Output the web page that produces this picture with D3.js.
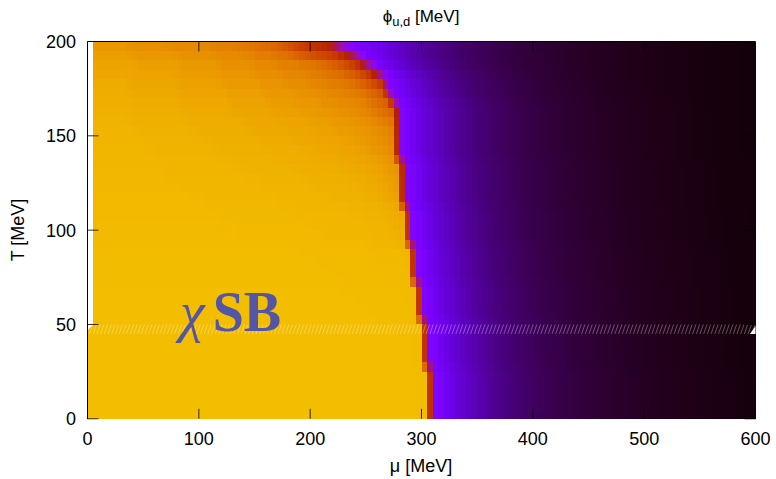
<!DOCTYPE html>
<html><head><meta charset="utf-8">
<script src="https://cdn.jsdelivr.net/npm/d3@7"></script>
<style>body{margin:0;background:#fff}svg{display:block}</style>
</head><body>
<svg id="c" width="776" height="479"></svg>
<script>
// ---------------- data ----------------
// grid nodes every 5 MeV in mu (0..600) and T (0..200)
const muStep = 5, tStep = 5;
const muNodes = d3.range(0, 600 + muStep, muStep);
const tNodes = d3.range(0, 200 + tStep, tStep);

// chirally broken phase: phi_u,d (MeV) per T row, run-length coded [phi, count], from mu = 0 to the boundary
const brokenRuns = [
  [[90.5,60],[90.3,2]], [[90.5,60],[90.3,2]], [[90.5,60],[90.3,2]],
  [[90.5,60],[90.3,2]], [[90.5,60],[90.3,2]], [[90.5,60],[90.3,2]],
  [[90.5,59],[90.2,2]], [[90.5,59],[90.2,2]], [[90.5,59],[90.2,2]], [[90.5,59],[90.2,2]],
  [[90.5,55],[90.3,5],[90.1,1]],
  [[90.5,52],[90.3,7],[90.1,1]],
  [[90.5,50],[90.3,9],[90.0,1]],
  [[90.5,48],[90.3,10],[90.1,1],[89.9,1]],
  [[90.4,46],[90.3,11],[90.1,2],[89.8,1]],
  [[90.4,45],[90.2,11],[90.0,2],[89.7,1]],
  [[90.4,43],[90.2,11],[90.0,4],[89.6,1]],
  [[90.3,41],[90.1,11],[89.9,5],[89.7,1],[89.4,1]],
  [[90.3,39],[90.1,11],[89.9,6],[89.6,2],[89.2,1]],
  [[90.1,28],[89.9,15],[89.6,8],[89.2,4],[88.8,1],[88.5,1],[88.1,1]],
  [[90.0,27],[89.8,15],[89.5,9],[89.1,4],[88.7,1],[88.3,1],[87.8,1]],
  [[89.95,25],[89.7,15],[89.4,10],[89.0,4],[88.5,1],[88.1,1],[87.6,1],[87.2,1]],
  [[89.9,23],[89.65,15],[89.3,10],[88.9,5],[88.4,2],[87.9,1],[87.4,1],[86.9,1]],
  [[89.85,21],[89.6,14],[89.2,10],[88.7,6],[88.2,2],[87.7,1],[87.2,1],[86.6,1],[86.0,1]],
  [[89.8,19],[89.5,14],[89.1,10],[88.6,6],[88.0,3],[87.5,1],[86.9,1],[86.3,1],[85.6,1],[85.0,1]],
  [[89.7,17],[89.4,14],[89.0,10],[88.4,7],[87.8,3],[87.2,2],[86.6,1],[86.0,1],[85.3,1],[84.6,1]],
  [[89.6,15],[89.3,14],[88.8,10],[88.2,7],[87.6,4],[87.0,2],[86.4,1],[85.8,1],[85.1,1],[84.4,1],[83.8,1]],
  [[89.5,14],[89.1,13],[88.6,10],[88.0,7],[87.4,4],[86.8,3],[86.1,2],[85.4,1],[84.7,1],[84.0,1],[83.3,1]],
  [[89.4,12],[89.0,12],[88.5,10],[87.9,7],[87.2,5],[86.5,3],[85.8,2],[85.1,1],[84.4,1],[83.7,1],[82.9,1],[82.2,1]],
  [[89.3,11],[88.9,11],[88.3,10],[87.7,7],[87.0,5],[86.3,4],[85.5,2],[84.7,1],[84.0,1],[83.3,1],[82.5,1],[81.7,1],[81.0,1]],
  [[89.1,10],[88.7,10],[88.1,10],[87.4,7],[86.7,5],[85.9,4],[85.1,3],[84.3,2],[83.5,1],[82.7,1],[81.9,1],[81.0,1],[80.0,1]],
  [[88.9,9],[88.4,10],[87.8,10],[87.1,7],[86.3,5],[85.5,4],[84.6,3],[83.7,2],[82.8,2],[81.8,1],[80.8,1],[79.7,1],[78.5,1]],
  [[88.7,8],[88.2,10],[87.5,10],[86.7,7],[85.9,5],[85.0,4],[84.0,3],[83.0,2],[82.0,2],[80.9,1],[79.7,1],[78.3,1],[76.8,1],[75.0,1]],
  [[88.4,8],[87.9,9],[87.2,9],[86.3,7],[85.4,5],[84.4,4],[83.3,3],[82.2,3],[81.0,2],[79.7,1],[78.3,1],[76.7,1],[74.8,1],[72.5,1],[70.0,1]],
  [[88.1,8],[87.5,9],[86.7,9],[85.7,7],[84.7,5],[83.6,4],[82.4,3],[81.1,3],[79.8,2],[78.3,1],[76.6,1],[74.7,1],[72.5,1],[70.0,1]],
  [[87.7,8],[87.0,9],[86.1,8],[85.0,7],[83.8,5],[82.5,4],[81.1,3],[79.6,3],[78.0,2],[76.2,1],[74.2,1],[72.0,1],[69.3,1],[66.0,1]],
  [[87.2,8],[86.4,8],[85.4,8],[84.2,7],[82.9,5],[81.5,4],[79.9,3],[78.2,3],[76.4,2],[74.4,1],[72.0,1],[69.0,1],[65.0,1],[60.0,1],[50.0,1]],
  [[86.6,9],[85.7,8],[84.6,7],[83.3,6],[81.9,5],[80.3,4],[78.5,3],[76.5,2],[74.5,2],[72.2,1],[69.6,1],[66.5,1],[62.8,1],[58.0,1],[50.0,1]],
  [[85.8,9],[84.8,8],[83.6,7],[82.2,6],[80.6,4],[78.8,4],[76.8,3],[74.6,2],[72.3,1],[70.0,1],[67.3,1],[64.3,1],[60.5,1],[55.5,1],[47.0,1]],
  [[84.6,8],[83.5,8],[82.2,7],[80.7,5],[79.0,3],[77.2,3],[75.2,2],[73.0,1],[70.6,1],[67.8,1],[64.8,1],[61.8,1],[59.3,1],[57.3,1],[55.8,1],[54.3,1],[51.0,1],[44.0,1],[36.0,1]],
  [[83.2,8],[81.9,7],[80.4,7],[78.7,5],[76.9,3],[74.9,2],[72.8,2],[70.6,1],[68.5,1],[66.0,1],[63.2,1],[60.5,1],[58.2,1],[56.3,1],[54.8,1],[53.3,1],[51.3,1],[44.0,1],[35.0,1]]
];

// restored phase: phi just above the boundary, by node distance k from the boundary
const phiAfter = [26,24,21,18.8,17,15.6,14.4,13.3,12.3,11.4,10.6,9.8,9.1,8.5,7.95,7.45,7.0,6.6,6.2,5.85,
  5.5,5.2,4.9,4.65,4.4,4.15,3.95,3.75,3.55,3.37,3.2,3.04,2.89,2.75,2.62,2.49,2.37,2.25,2.14,2.03,
  1.93,1.83,1.74,1.65,1.57,1.49,1.41,1.34,1.27,1.21,1.15,1.09,1.03,0.98,0.93,0.88,0.84,0.80,0.76,0.72,
  0.69,0.66,0.63,0.60,0.57,0.55,0.53,0.51,0.49,0.47,0.45,0.43,0.42,0.40,0.39,0.38,0.37];
// restored phase: phi per mu column (seen in the crossover rows), from mu = 225
const restStartMu = 225;
const phiRestored = [26,26,25.5,25,24,
  22.5,21,19.5,18.2,17,15.8,14.6,13.5,12.5,11.6,
  10.8,10.1,9.5,8.9,8.4,7.9,7.4,7.0,6.6,6.2,
  5.9,5.6,5.3,5.0,4.75,4.5,4.3,4.1,3.9,3.7,
  3.55,3.4,3.25,3.1,2.95,2.82,2.69,2.57,2.45,2.34,
  2.23,2.13,2.03,1.94,1.85,1.76,1.68,1.6,1.53,1.46,
  1.39,1.33,1.27,1.21,1.15,1.1,1.05,1.0,0.96,0.92,
  0.88,0.84,0.8,0.77,0.74,0.71,0.68,0.65,0.63,0.61,0.59];

const cbRange = [0, 100];
const muTicks = [0,100,200,300,400,500,600];
const tTicks = [0,50,100,150,200];

// ---------------- build grid ----------------
const grid = tNodes.map((T, i) => {
  const row = [];
  brokenRuns[i].forEach(([v, n]) => { for (let k = 0; k < n; k++) row.push(v); });
  const edge = row.length;
  for (let j = edge; j < muNodes.length; j++) {
    const ri = (muNodes[j] - restStartMu) / muStep;
    const rest = ri >= 0 ? phiRestored[ri] : 0;
    const after = phiAfter[j - edge] ?? 0;
    row.push(Math.max(rest, after));
  }
  return row;
});

// ---------------- drawing ----------------
const svg = d3.select('#c');
const x = d3.scaleLinear().domain([0, 600]).range([87.5, 755.5]);
const y = d3.scaleLinear().domain([0, 200]).range([418.8, 41.5]);
const cNorm = d3.scaleLinear().domain(cbRange).range([0, 1]).clamp(true);
function palette(v) {               // gnuplot rgbformulae 7,5,15
  const t = cNorm(v);
  return d3.rgb(255 * Math.sqrt(t), 255 * t * t * t, 255 * Math.max(0, Math.sin(2 * Math.PI * t)));
}

const quads = [];
for (let i = 0; i < tNodes.length - 1; i++) {
  for (let j = 0; j < muNodes.length - 1; j++) {
    if (i >= 10 && j === 0) continue;   // upper data block starts at mu = 5
    const v = (grid[i][j] + grid[i][j + 1] + grid[i + 1][j] + grid[i + 1][j + 1]) / 4;
    quads.push({ mu0: muNodes[j], mu1: muNodes[j + 1], t0: tNodes[i], t1: tNodes[i + 1], v });
  }
}
svg.append('g').attr('shape-rendering', 'crispEdges')
  .selectAll('rect').data(quads).join('rect')
  .attr('x', d => x(d.mu0)).attr('y', d => y(d.t1))
  .attr('width', d => x(d.mu1) - x(d.mu0)).attr('height', d => y(d.t0) - y(d.t1))
  .attr('fill', d => palette(d.v));

// seam between the two data blocks (T = 45..50)
const seam = svg.append('g');
const yb = y(45), yt = y(50);
seam.selectAll('line').data(d3.range(x(0) + 2, x(600) - 3, 3.7)).join('line')
  .attr('x1', d => d).attr('y1', yb).attr('x2', d => d + 3.3).attr('y2', yt)
  .attr('stroke', '#fff').attr('stroke-opacity', 0.4).attr('stroke-width', 0.8);
seam.append('path').attr('d', `M${x(0)},${yt} L${x(5)},${yt} L${x(0)},${yt + 6} Z`).attr('fill', '#fff');
seam.append('path').attr('d', `M${x(600)},${yt + 1.5} L${x(600)},${yb} L${x(600) - 5.5},${yb} Z`).attr('fill', '#fff');

// border (left, top)
svg.append('path').attr('d', `M${x(0)},${y(0)} V${y(200)} H${x(600)}`)
  .attr('fill', 'none').attr('stroke', '#000').attr('stroke-width', 1);

// ticks
const tk = svg.append('g').attr('stroke', '#000').attr('stroke-opacity', 0.8).attr('stroke-width', 1);
tk.selectAll('.bx').data(muTicks).join('line').attr('class', 'bx')
  .attr('x1', d => x(d)).attr('x2', d => x(d)).attr('y1', y(0)).attr('y2', y(0) - 10);
tk.selectAll('.tx').data(muTicks.slice(1, -1)).join('line').attr('class', 'tx')
  .attr('x1', d => x(d)).attr('x2', d => x(d)).attr('y1', y(200)).attr('y2', y(200) + 10);
tk.selectAll('.ly').data(tTicks).join('line').attr('class', 'ly')
  .attr('y1', d => y(d)).attr('y2', d => y(d)).attr('x1', x(0)).attr('x2', x(0) + 11);
tk.selectAll('.ry').data(tTicks).join('line').attr('class', 'ry')
  .attr('y1', d => y(d)).attr('y2', d => y(d)).attr('x1', x(600)).attr('x2', x(600) - 11);

// tick labels
const font = "'Liberation Sans', Arial, Helvetica, sans-serif";
svg.append('g').selectAll('text').data(muTicks).join('text')
  .attr('x', d => x(d)).attr('y', 445).attr('text-anchor', 'middle')
  .attr('font-family', font).attr('font-size', 18).text(d => d);
svg.append('g').selectAll('text').data(tTicks).join('text')
  .attr('x', 76).attr('y', d => y(d) + 6.5).attr('text-anchor', 'end')
  .attr('font-family', font).attr('font-size', 18).text(d => d);

// axis titles
svg.append('text').attr('x', 421).attr('y', 472).attr('text-anchor', 'middle')
  .attr('font-family', font).attr('font-size', 18).text('μ [MeV]');
svg.append('text').attr('transform', 'translate(24,230) rotate(-90)').attr('text-anchor', 'middle')
  .attr('font-family', font).attr('font-size', 18).text('T [MeV]');
const title = svg.append('text').attr('x', 421).attr('y', 22).attr('text-anchor', 'middle')
  .attr('font-family', font).attr('font-size', 17);
title.append('tspan').text('ϕ');
title.append('tspan').attr('font-size', 13).attr('dy', 4).text('u,d');
title.append('tspan').attr('dy', -4).text(' [MeV]');

// region label
const lab = svg.append('text').attr('x', 180).attr('y', 331)
  .attr('font-family', "'Liberation Serif', 'Times New Roman', serif").attr('font-size', 56).attr('fill', '#5356a6');
lab.append('tspan').attr('font-style', 'italic').text('χ');
lab.append('tspan').attr('font-weight', 'bold').attr('dx', 8).text('SB');
</script>
</body></html>
